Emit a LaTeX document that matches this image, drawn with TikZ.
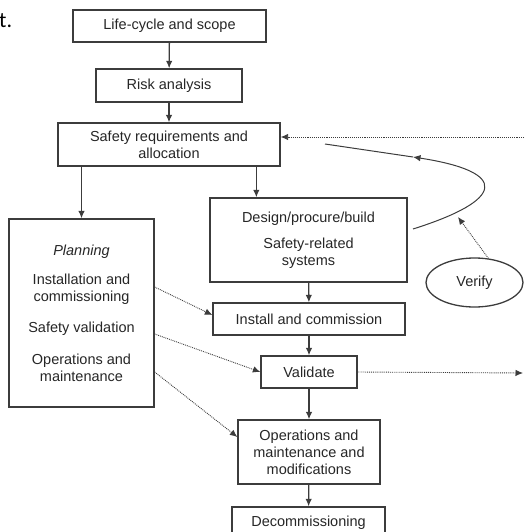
\documentclass[tikz,border=0pt]{standalone}
\usepackage{fontspec}
\setmainfont{Liberation Sans}
\newfontfamily\calib{Carlito}
\usetikzlibrary{arrows.meta,shapes.geometric,calc}
\definecolor{ink}{HTML}{262626}
\definecolor{edge}{HTML}{3C3C3C}
\begin{document}
\begin{tikzpicture}[x=1pt,y=-1pt,
  box/.style={draw=edge, line width=1.3pt, text=ink, font=\fontsize{14.5}{17}\selectfont, align=center, inner sep=0pt},
  arr/.style={draw=edge, line width=1.3pt, -{Latex[length=7.5pt,width=6.5pt]}},
  dotarr/.style={draw=edge, line width=0.9pt, densely dotted, -{Latex[length=7.5pt,width=6.5pt]}}]
\useasboundingbox (0,0) rectangle (524,532);
\clip (0,0) rectangle (524,532);

\node[anchor=base west, inner sep=0pt, font=\calib\fontsize{22}{24}\selectfont] (frag) at (-1,28) {t.};

\node[box, minimum width=193pt, minimum height=32pt] (life) at (169.5,26) {Life-cycle and scope};
\node[box, minimum width=146pt, minimum height=33pt] (risk) at (169,85.5) {Risk analysis};
\node[box, minimum width=222pt, minimum height=43pt] (safety) at (169,144.5) {Safety requirements and\\allocation};
\node[box, minimum width=197pt, minimum height=84pt] (design) at (308.5,240) {Design/procure/build\\[9pt]Safety-related\\systems};
\node[box, minimum width=145pt, minimum height=188pt] (planning) at (81.5,313) {\textit{Planning}\\[12pt]Installation and\\commissioning\\[14pt]Safety validation\\[15pt]Operations and\\maintenance};
\node[box, minimum width=192pt, minimum height=32pt] (install) at (309,319) {Install and commission};
\node[box, minimum width=96pt, minimum height=32pt] (validate) at (309,372) {Validate};
\node[box, minimum width=142pt, minimum height=64pt] (ops) at (309,452) {Operations and\\maintenance and\\modifications};
\node[box, minimum width=153pt, minimum height=32pt] (decom) at (308.5,523) {Decommissioning};
\node[box, ellipse, minimum width=97pt, minimum height=49pt] (verify) at (474.5,282.5) {Verify};

\coordinate (rin) at (524,137);
\coordinate (rout) at (523,373);
\coordinate (c0) at (413,229);
\coordinate (c1) at (413,157);
\coordinate (c2) at (325,144);
\coordinate (vt) at (458,217);

\draw[arr] (life) -- (risk);
\draw[arr] (risk) -- (safety);
\draw[arr] (safety.south -| planning.north) -- (planning.north);
\draw[arr] ([xshift=47pt]design.north west |- safety.south) -- ([xshift=47pt]design.north west);
\draw[arr] (design) -- (install);
\draw[arr] (install) -- (validate);
\draw[arr] (validate) -- (ops);
\draw[arr] (ops) -- (decom);

\draw[dotarr] (rin) -- ([yshift=7.5pt]safety.east);
\draw[dotarr] (validate.east) -- (rout);
\draw[dotarr] ([yshift=26pt]planning.east) -- ([yshift=4pt]install.west);
\draw[dotarr] ([yshift=-21pt]planning.east) -- (validate.west);
\draw[dotarr] ([yshift=-59pt]planning.east) -- ([yshift=15pt]ops.west);
\draw[dotarr] (verify.60) -- (vt);

\draw[edge, line width=1pt, -{Latex[length=7.5pt,width=6.5pt]}] (c0) .. controls (505,200) and (510,172) .. (c1);
\draw[edge, line width=1pt] (c1) -- (c2);
\end{tikzpicture}
\end{document}
